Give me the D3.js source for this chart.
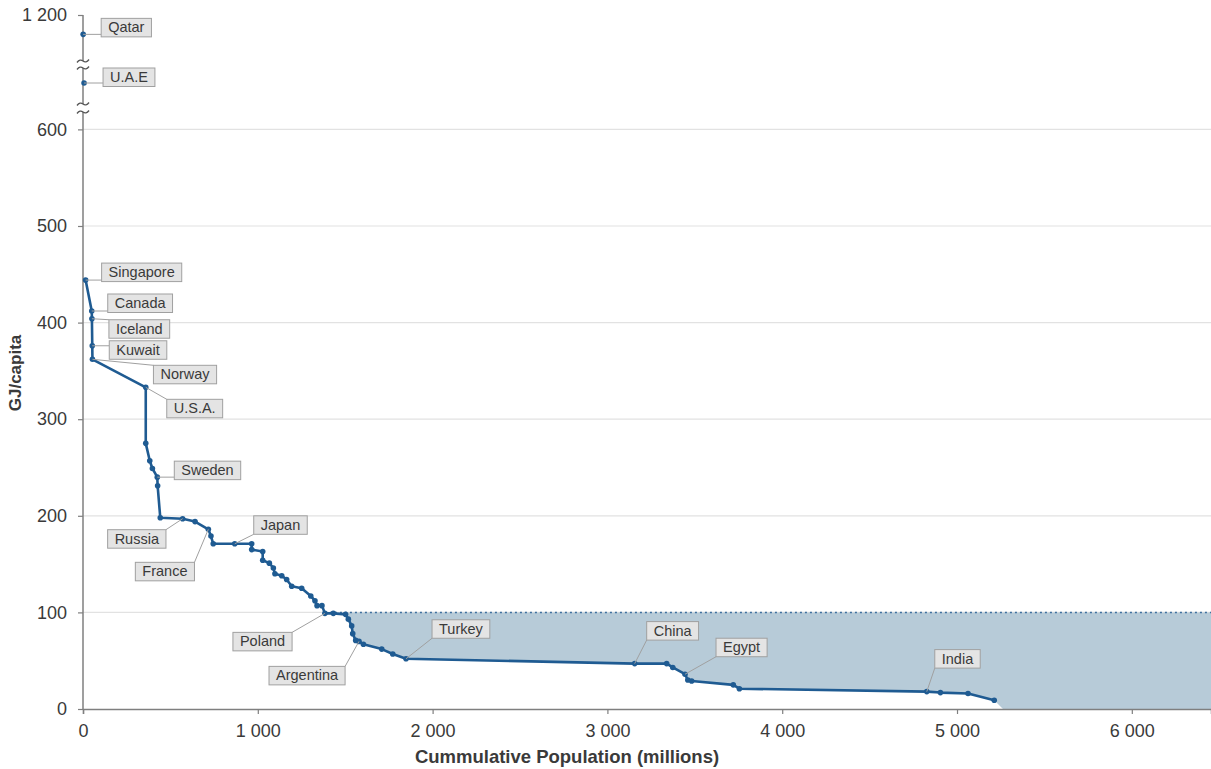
<html>
<head>
	<meta charset="utf-8">
	<title>GJ per capita vs cumulative population</title>
	<style>
		body { margin: 0; background: #fff; }
		text { font-family: "Liberation Sans", Arial, sans-serif; }
	</style>
</head>
<body>
	<div id="chart"></div>
	<script src="https://d3js.org/d3.v7.min.js" charset="utf-8"></script>
	<script>
	// cumulative population (millions) and energy use (GJ/capita)
	var cumPop = [1, 6, 15, 50, 51, 53, 54, 359, 359, 382, 397, 425, 427, 442,
		570, 641, 717, 732, 745, 868, 965, 965, 1028, 1028, 1066, 1089, 1098, 1137,
		1165, 1194, 1251, 1303, 1327, 1339, 1367, 1384, 1432, 1502, 1518, 1537, 1543, 1560,
		1579, 1604, 1709, 1772, 1848, 3156, 3339, 3374, 3444, 3460, 3482, 3720, 3755, 4827,
		4905, 5063, 5213];
	var gjCap = [1180, 700, 444, 412, 404, 376, 362, 333, 275, 257, 249, 240, 231, 198,
		197, 194, 186, 179, 171, 171, 171, 165, 163, 154, 151, 146, 140, 138,
		134, 127, 125, 117, 112, 107, 107, 99, 99, 98, 93, 86, 78, 71,
		70, 67, 62, 57, 52, 47, 47, 43, 36, 30, 29, 25, 21, 18,
		17, 16, 9];

	var countryNames = ["Qatar", "U.A.E", "Singapore", "Canada", "Iceland", "Kuwait", "Norway", "U.S.A.",
		"Sweden", "Russia", "France", "Japan", "Poland", "Argentina", "Turkey", "China", "Egypt", "India"];
	var countryIndex = [0, 1, 2, 3, 4, 5, 6, 7, 11, 14, 16, 19, 35, 42, 46, 47, 50, 55];

	var xTicks = [0, 1000, 2000, 3000, 4000, 5000, 6000];
	var yTicks = [0, 100, 200, 300, 400, 500, 600, 1200];
	var threshold = 100;

	// label box placement (pixels from the point), layout only
	var labelOffsets = [[18, -16], [19, -15], [16, -17], [16, -17], [17, 1], [17, -5], [61, 6], [21, 12],
		[17, -16], [-75, 11], [-73, 33], [19, -28], [-92, 19], [-90, 25], [26, -39], [12, -42], [31, -36], [8, -42]];

	var width = 1211, height = 769;
	var lineColor = "#1f5b92";
	var axisColor = "#7f7f7f";
	var textColor = "#3a3a3a";

	var svg = d3.select("#chart").append("svg")
		.attr("width", width).attr("height", height);

	var x = d3.scaleLinear().domain([0, 6453]).range([83, 1211]);
	// broken y axis: three linear pieces
	var y = d3.scaleLinear()
		.domain([0, 618, 678.3, 715.5, 1152.5, 1200])
		.range([709, 112, 104, 68, 61, 15]);

	var loc = d3.formatLocale({decimal: ".", thousands: " ", grouping: [3], currency: ["", ""]});
	var fmt = loc.format(",d");

	var points = cumPop.map(function(p, i) { return {x: p, y: gjCap[i]}; });

	// grid
	svg.append("g").selectAll("line")
		.data(yTicks.filter(function(t) { return t > 0 && t <= 600; }))
		.enter().append("line")
		.attr("x1", x(0)).attr("x2", width)
		.attr("y1", function(d) { return y(d); }).attr("y2", function(d) { return y(d); })
		.attr("stroke", "#e2e2e2").attr("stroke-width", 1.2);

	// shaded area below threshold
	var areaPts = points.filter(function(d) { return d.x >= 1384; });
	areaPts.push({x: 5263, y: 0});
	areaPts.push({x: x.domain()[1], y: 0});
	svg.append("path")
		.datum(areaPts)
		.attr("d", d3.area()
			.x(function(d) { return x(d.x); })
			.y0(y(threshold))
			.y1(function(d) { return y(d.y); }))
		.attr("fill", "#b7cbd8");

	svg.append("line")
		.attr("x1", x(1384)).attr("x2", width)
		.attr("y1", y(threshold)).attr("y2", y(threshold))
		.attr("stroke", "#3d6f9e").attr("stroke-width", 1.5)
		.attr("stroke-dasharray", "2,3");

	// x axis
	var xAxis = svg.append("g")
		.attr("transform", "translate(0," + y(0) + ")")
		.call(d3.axisBottom(x).tickValues(xTicks).tickFormat(fmt).tickSize(5).tickPadding(10));
	xAxis.select(".domain").attr("stroke", axisColor).attr("stroke-width", 1.5);
	xAxis.selectAll(".tick line").attr("stroke", axisColor).attr("stroke-width", 1.2);
	xAxis.selectAll("text").attr("font-size", 18).attr("fill", textColor)
		.attr("font-family", "Liberation Sans, Arial, sans-serif");

	// y axis (ticks + labels, spine drawn by hand with breaks)
	var yAxis = svg.append("g")
		.attr("transform", "translate(" + x(0) + ",0)")
		.call(d3.axisLeft(y).tickValues(yTicks).tickFormat(fmt).tickSize(5).tickPadding(11));
	yAxis.select(".domain").remove();
	yAxis.selectAll(".tick line").attr("stroke", axisColor).attr("stroke-width", 1.2);
	yAxis.selectAll("text").attr("font-size", 18).attr("fill", textColor)
		.attr("font-family", "Liberation Sans, Arial, sans-serif");

	var spine = [[y(1200), 61], [68, 104], [112, y(0)]];
	spine.forEach(function(s) {
		svg.append("line")
			.attr("x1", x(0)).attr("x2", x(0))
			.attr("y1", s[0]).attr("y2", s[1])
			.attr("stroke", axisColor).attr("stroke-width", 1.5);
	});
	[61, 68, 104, 112].forEach(function(b) {
		var x0 = x(0);
		svg.append("path")
			.attr("d", "M" + (x0 - 6) + "," + (b + 1.5) + " q3,-4 6,-1.5 t6,-1.5")
			.attr("fill", "none").attr("stroke", "#555").attr("stroke-width", 1.3);
	});

	// curve (Qatar and U.A.E are dots only)
	svg.append("path")
		.datum(points.slice(2))
		.attr("d", d3.line().x(function(d) { return x(d.x); }).y(function(d) { return y(d.y); }))
		.attr("fill", "none").attr("stroke", lineColor).attr("stroke-width", 2.6)
		.attr("stroke-linejoin", "round");

	svg.append("g").selectAll("circle")
		.data(points).enter().append("circle")
		.attr("cx", function(d) { return x(d.x); })
		.attr("cy", function(d) { return y(d.y); })
		.attr("r", 2.8)
		.attr("fill", lineColor);

	// labels
	countryNames.forEach(function(name, k) {
		var p = points[countryIndex[k]];
		var px = x(p.x), py = y(p.y);
		var bx = px + labelOffsets[k][0], by = py + labelOffsets[k][1];
		var g = svg.append("g");
		var leader = g.append("line");
		var rect = g.append("rect");
		var txt = g.append("text")
			.attr("x", bx + 7).attr("y", by + 14)
			.attr("font-size", 14.5).attr("fill", textColor)
			.text(name);
		var w = txt.node().getComputedTextLength() + 14, h = 18.5;
		rect.attr("x", bx).attr("y", by).attr("width", w).attr("height", h)
			.attr("fill", "#e4e4e4").attr("stroke", "#a0a0a0").attr("stroke-width", 1);
		var ex = Math.max(bx, Math.min(px, bx + w));
		var ey = Math.max(by, Math.min(py, by + h));
		leader.attr("x1", px).attr("y1", py).attr("x2", ex).attr("y2", ey)
			.attr("stroke", "#a0a0a0").attr("stroke-width", 1);
	});

	// axis titles
	svg.append("text")
		.attr("x", 567).attr("y", 763)
		.attr("text-anchor", "middle")
		.attr("font-size", 18.5).attr("font-weight", "bold").attr("fill", textColor)
		.text("Cummulative Population (millions)");

	svg.append("text")
		.attr("transform", "translate(21,373) rotate(-90)")
		.attr("text-anchor", "middle")
		.attr("font-size", 17).attr("font-weight", "bold").attr("fill", textColor)
		.text("GJ/capita");
	</script>
</body>
</html>
